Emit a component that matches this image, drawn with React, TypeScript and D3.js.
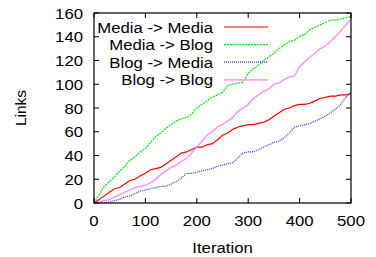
import * as d3 from 'd3'

const xTicks = [0, 100, 200, 300, 400, 500]
const yTicks = [0, 20, 40, 60, 80, 100, 120, 140, 160]

const iterations = [0, 10, 20, 30, 40, 50, 60, 70, 80, 90, 100, 110, 120, 130, 140, 150, 160, 170, 180, 190, 200, 210, 220, 230, 240, 250, 260, 270, 280, 290, 300, 310, 320, 330, 340, 350, 360, 370, 380, 390, 400, 410, 420, 430, 440, 450, 460, 470, 480, 490, 500]

const mediaMedia = [0, 3, 6, 9, 12, 13, 16, 19, 20, 23, 25, 28, 29, 30, 33, 36, 39, 42, 43, 45, 47, 47, 49, 50, 53, 57, 59, 62, 64, 65, 66, 66, 67, 68, 70, 73, 76, 79, 80, 82, 83, 83, 84, 86, 88, 89, 90, 90, 91, 91, 92]
const mediaBlog = [0, 7, 14, 18, 22, 27, 31, 36, 39, 43, 46, 51, 56, 59, 63, 66, 69, 71, 72, 75, 80, 83, 86, 89, 91, 93, 99, 100, 101, 102, 109, 113, 116, 120, 123, 126, 130, 133, 136, 137, 140, 142, 146, 148, 150, 152, 154, 154, 155, 156, 157]
const blogMedia = [0, 0, 0, 1, 2, 3, 5, 6, 8, 10, 11, 12, 13, 14, 14, 16, 18, 21, 25, 25, 26, 27, 28, 29, 31, 32, 33, 34, 38, 42, 43, 43, 45, 47, 49, 51, 52, 55, 59, 64, 65, 66, 67, 69, 71, 73, 76, 79, 83, 89, 93]
const blogBlog = [0, 1, 2, 3, 5, 7, 9, 11, 13, 14, 15, 17, 20, 24, 27, 30, 32, 35, 38, 42, 47, 52, 57, 60, 64, 66, 69, 72, 77, 80, 83, 88, 91, 94, 96, 100, 101, 104, 106, 107, 115, 119, 123, 126, 130, 132, 136, 140, 145, 150, 155]

const series = [
  { label: 'Media -> Media', values: mediaMedia, color: '#ff0000', dash: 'none', width: 1.2 },
  { label: 'Media -> Blog', values: mediaBlog, color: '#00e000', dash: '2 1', width: 1.2 },
  { label: 'Blog -> Media', values: blogMedia, color: '#3030ff', dash: '1 1', width: 1.2 },
  { label: 'Blog -> Blog', values: blogBlog, color: '#ff80ff', dash: 'none', width: 1.2 },
]

export default function App() {
  const W = 376
  const H = 257
  const margin = { top: 13, right: 25, bottom: 54, left: 94 }
  const iW = W - margin.left - margin.right
  const iH = H - margin.top - margin.bottom

  const x = d3.scaleLinear().domain([0, 500]).range([0, iW])
  const y = d3.scaleLinear().domain([0, 160]).range([iH, 0])

  const line = (vals: number[]) =>
    d3.line<number>().x((_, i) => x(iterations[i])).y((d) => y(d))(vals) || ''

  const font = 'Liberation Sans, Arial, sans-serif'
  const fs = 15.5
  const sx = 1.08
  // text stretched a little horizontally, like the reference image
  const T = (px: number, py: number, anchor: string, s: string | number, key?: string) => (
    <text key={key} transform={`translate(${px},${py}) scale(${sx},1)`} textAnchor={anchor} fontSize={fs}>{s}</text>
  )

  return (
    <svg width={W} height={H} style={{ position: 'absolute', left: 0, top: 0, background: '#fff' }}
      fontFamily={font}>
      <g transform={`translate(${margin.left},${margin.top})`}>
        {series.map((s) => (
          <path key={s.label} d={line(s.values)} fill="none" stroke={s.color}
            strokeWidth={s.width} strokeDasharray={s.dash} />
        ))}
        <rect x={0} y={0} width={iW} height={iH} fill="none" stroke="#000" strokeWidth={1.2} />
        {xTicks.map((t) => (
          <g key={'x' + t}>
            <line x1={x(t)} x2={x(t)} y1={iH} y2={iH - 5} stroke="#000" />
            <line x1={x(t)} x2={x(t)} y1={0} y2={5} stroke="#000" />
            {T(x(t), iH + 23, 'middle', t)}
          </g>
        ))}
        {yTicks.map((t) => (
          <g key={'y' + t}>
            <line x1={0} x2={5} y1={y(t)} y2={y(t)} stroke="#000" />
            <line x1={iW} x2={iW - 5} y1={y(t)} y2={y(t)} stroke="#000" />
            {T(-11, y(t) + 5.5, 'end', t)}
          </g>
        ))}
        {series.map((s, i) => (
          <g key={'l' + s.label}>
            {T(119, 19.5 + i * 17.6, 'end', s.label)}
            <line x1={130} x2={174} y1={14 + i * 17.6} y2={14 + i * 17.6} stroke={s.color}
              strokeWidth={s.width} strokeDasharray={s.dash} />
          </g>
        ))}
        {T(iW / 2, iH + 50, 'middle', 'Iteration')}
        <text transform="rotate(-90)" x={-iH / 2} y={-68} textAnchor="middle" fontSize={15.5}>Links</text>
      </g>
    </svg>
  )
}
